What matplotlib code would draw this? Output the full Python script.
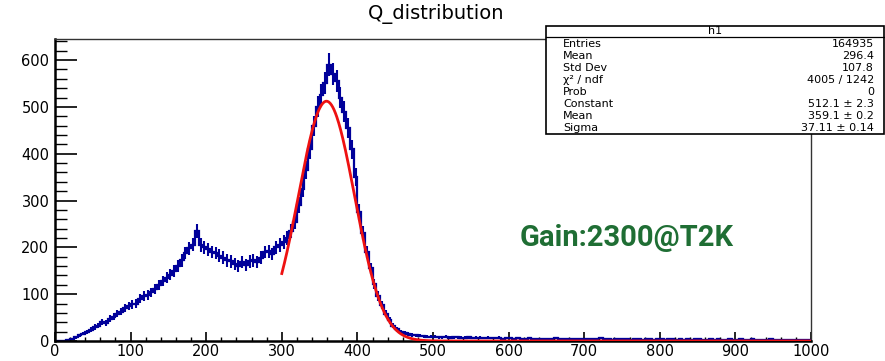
import numpy as np
import matplotlib
matplotlib.use("Agg")
import matplotlib.pyplot as plt
from matplotlib.patches import Rectangle
from matplotlib.lines import Line2D
from matplotlib.ticker import MultipleLocator

# histogram contents, 5-unit bins (per 100 units of Q)
bin_width = 5
q_000 = [0, 0, 1, 3, 5, 8, 12, 16, 20, 24, 30, 33, 40, 38, 48, 52, 58, 63, 70, 74]
q_100 = [78, 80, 90, 96, 98, 104, 112, 120, 128, 135, 142, 150, 160, 172, 188, 198, 206, 235, 205, 200]
q_200 = [196, 190, 188, 182, 178, 172, 170, 164, 160, 168, 162, 170, 172, 168, 178, 190, 192, 186, 200, 205]
q_300 = [212, 220, 235, 255, 290, 325, 365, 410, 460, 500, 525, 550, 590, 570, 555, 520, 490, 455, 410, 350]
q_400 = [275, 230, 190, 155, 122, 96, 76, 58, 44, 33, 25, 20, 17, 15, 13, 12, 11, 10, 9, 9]
q_500 = [9, 8, 8, 9, 7, 8, 8, 7, 7, 8, 6, 7, 7, 6, 7, 6, 6, 7, 5, 6]
q_600 = [6, 5, 6, 5, 5, 6, 5, 4, 5, 5, 4, 5, 6, 4, 5, 4, 5, 4, 4, 5]
q_700 = [4, 5, 4, 4, 6, 4, 4, 3, 4, 5, 4, 4, 3, 4, 4, 3, 4, 5, 3, 4]
q_800 = [4, 3, 4, 4, 3, 4, 3, 4, 3, 4, 4, 3, 3, 4, 3, 4, 3, 3, 4, 3]
q_900 = [3, 4, 3, 3, 4, 3, 3, 2, 3, 4, 3, 3, 3, 2, 3, 3, 2, 3, 3, 2]

# gaussian fit parameters from the stats box, fit range
fit_const = 512.1
fit_mean = 359.1
fit_sigma = 37.11
fit_range = (300, 1000)

stat_names = ["Entries", "Mean", "Std Dev", "\u03c7\u00b2 / ndf", "Prob", "Constant", "Mean", "Sigma"]
stat_values = ["164935", "296.4", "107.8", "4005 / 1242", "0", "512.1 \u00b1 2.3", "359.1 \u00b1 0.2", "37.11 \u00b1 0.14"]

W, H = 885, 361
hist_color = "#00009a"

counts = np.array(q_000 + q_100 + q_200 + q_300 + q_400 + q_500 + q_600 + q_700 + q_800 + q_900, dtype=float)
edges = np.arange(len(counts) + 1) * bin_width
centers = edges[:-1] + bin_width / 2

fig = plt.figure(figsize=(W / 100, H / 100), dpi=100)
ax = fig.add_axes([55 / W, 1 - 341 / H, (811 - 55) / W, (341 - 39) / H])

# histogram drawn ROOT style: steps plus error crosses
ax.stairs(counts, edges, color=hist_color, lw=1.6)
ax.errorbar(centers, counts, yerr=np.sqrt(counts), xerr=bin_width / 2, fmt="none",
            ecolor=hist_color, elinewidth=1.5)

xf = np.linspace(fit_range[0], fit_range[1], 800)
yf = fit_const * np.exp(-0.5 * ((xf - fit_mean) / fit_sigma) ** 2)
ax.plot(xf, yf, color="#ee1111", lw=2.0, zorder=5)

ax.set_xlim(0, 1000)
ax.set_ylim(0, 645)
ax.xaxis.set_major_locator(MultipleLocator(100))
ax.xaxis.set_minor_locator(MultipleLocator(20))
ax.yaxis.set_major_locator(MultipleLocator(100))
ax.yaxis.set_minor_locator(MultipleLocator(20))
ax.tick_params(axis="x", which="major", direction="in", length=6.5, width=1.2, labelsize=10.5, pad=2)
ax.tick_params(axis="x", which="minor", direction="in", length=3.2, width=1.0)
ax.tick_params(axis="y", which="major", direction="in", length=16, width=1.2, labelsize=10.5, pad=4)
ax.tick_params(axis="y", which="minor", direction="in", length=8.5, width=1.0)
for side in ["left", "bottom"]:
    ax.spines[side].set_linewidth(1.8)
for side in ["top", "right"]:
    ax.spines[side].set_linewidth(1.0)
    ax.spines[side].set_color("#333333")

fig.text(436 / W, 1 - 14 / H, "Q_distribution", ha="center", va="center", fontsize=14)

fig.text(627 / W, 1 - 238 / H, "Gain:2300@T2K", ha="center", va="center", fontsize=21,
         fontweight="bold", color="#1f6e34", family=["Roboto", "DejaVu Sans"])

# stats box
bx0, bx1, by0, by1 = 546, 884, 26, 134
fig.patches.append(Rectangle((bx0 / W, 1 - by1 / H), (bx1 - bx0) / W, (by1 - by0) / H,
                             transform=fig.transFigure, facecolor="white", edgecolor="black",
                             lw=1.2, zorder=10))
fig.lines.append(Line2D([bx0 / W, bx1 / W], [1 - 37 / H, 1 - 37 / H], transform=fig.transFigure,
                        color="black", lw=0.9, zorder=11))
fig.text((bx0 + bx1) / 2 / W, 1 - 31.5 / H, "h1", ha="center", va="center", fontsize=8, zorder=12)
for i, (name, val) in enumerate(zip(stat_names, stat_values)):
    yy = 1 - (44 + 12 * i) / H
    fig.text(563 / W, yy, name, ha="left", va="center", fontsize=8, zorder=12)
    fig.text(874 / W, yy, val, ha="right", va="center", fontsize=8, zorder=12)

fig.savefig("out.png", dpi=100)
